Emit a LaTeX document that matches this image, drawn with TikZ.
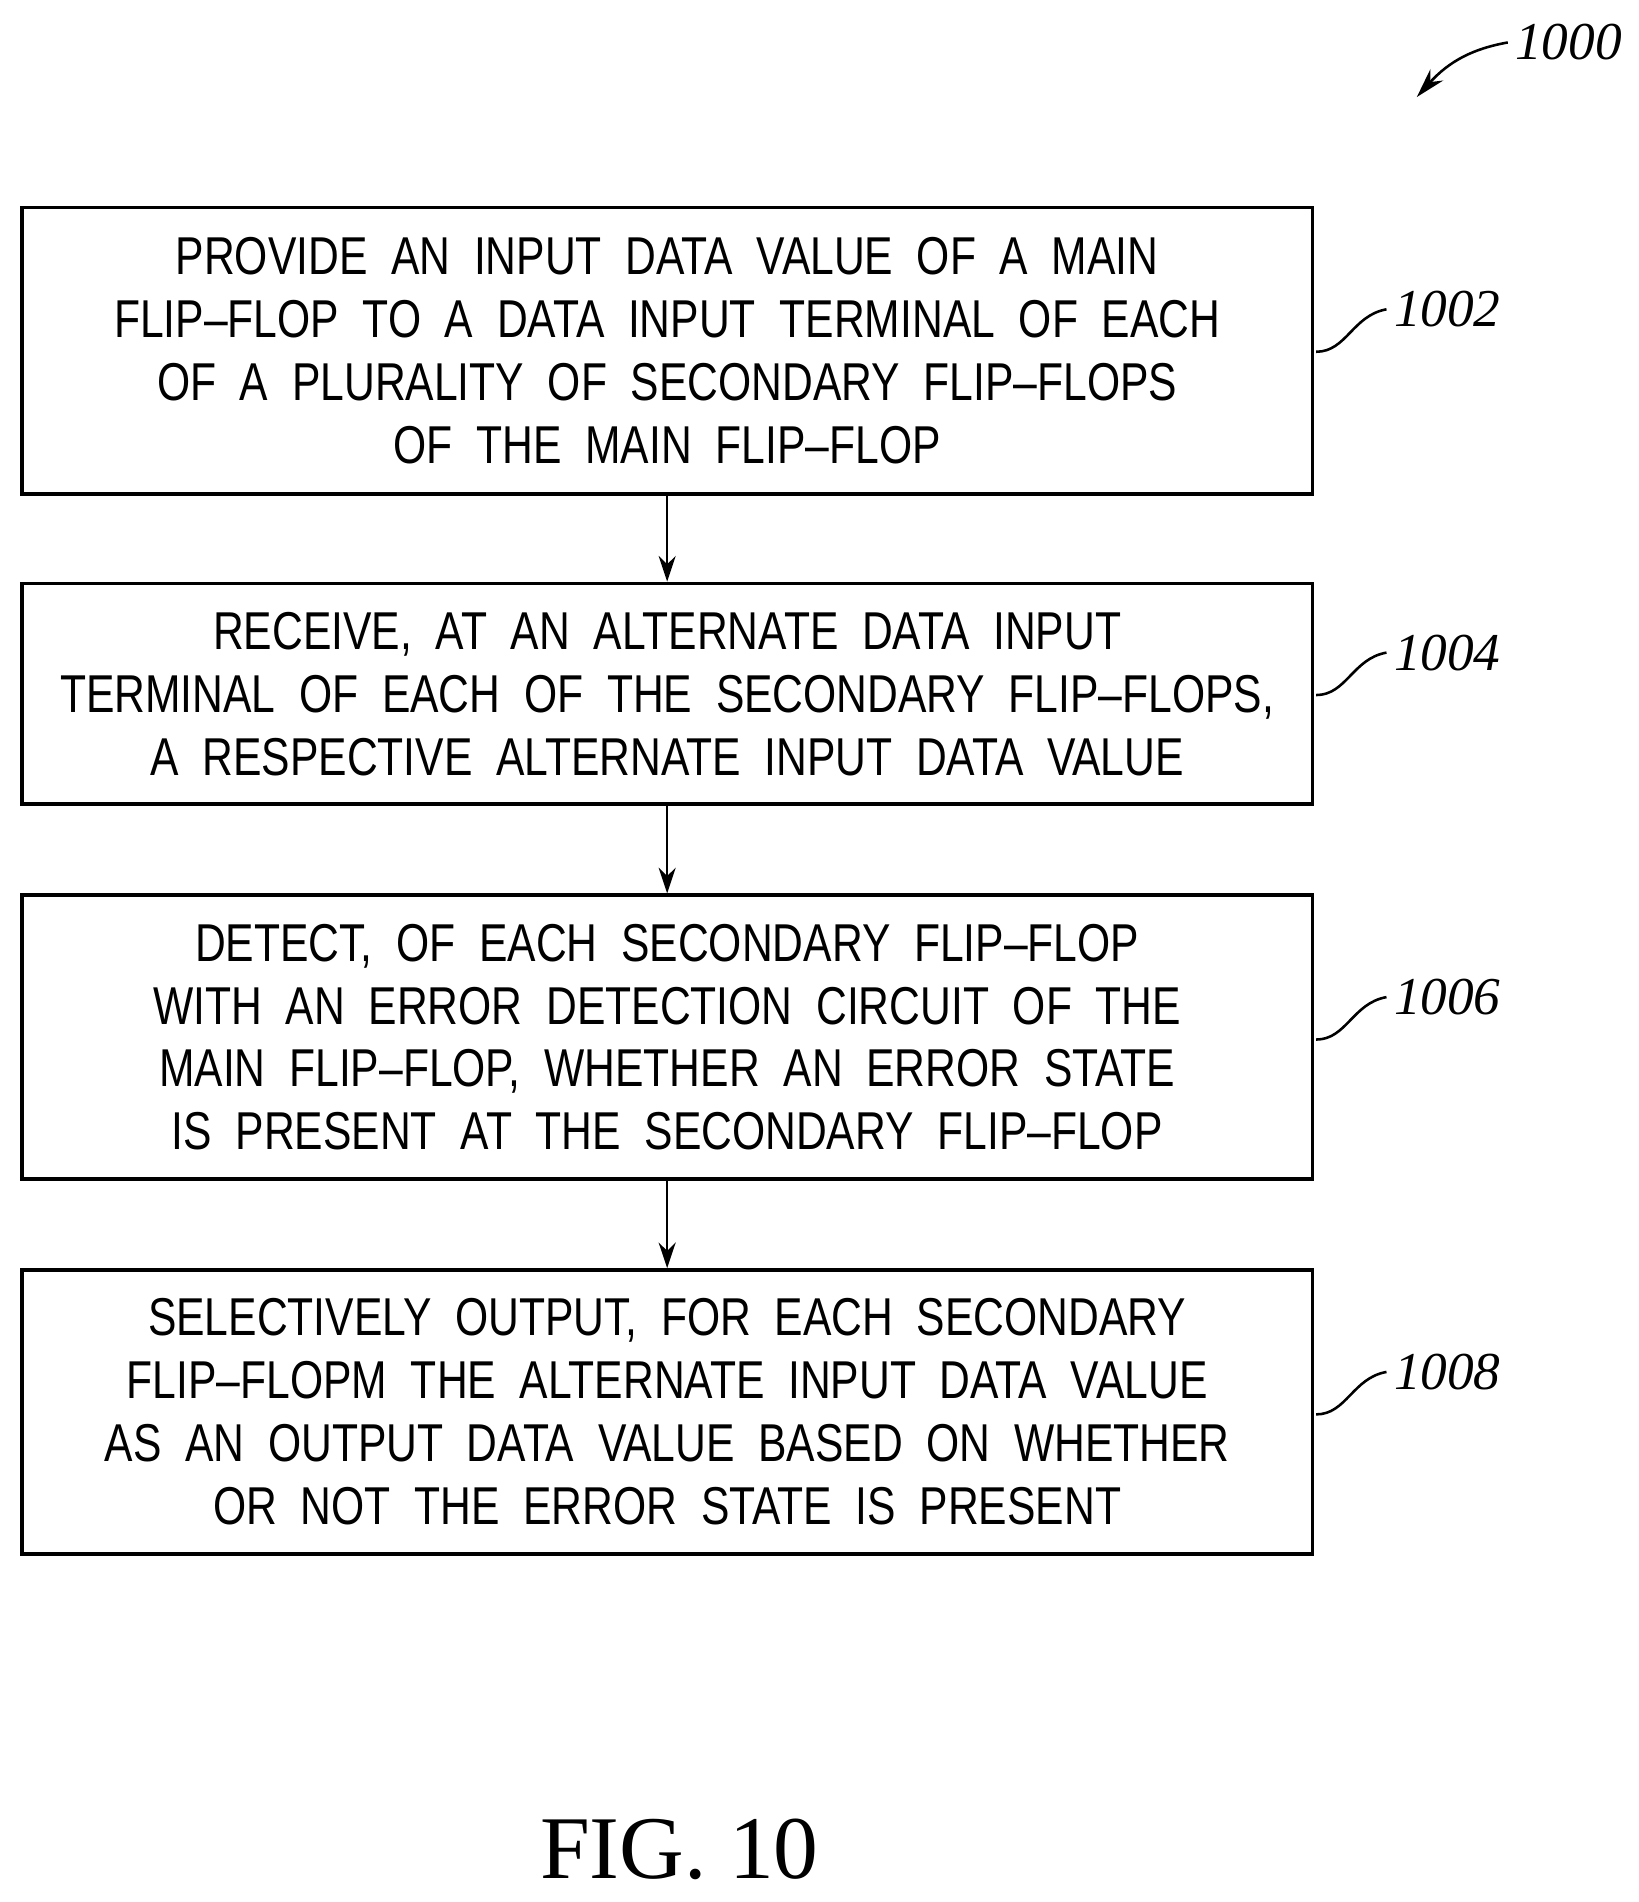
\documentclass[tikz,border=0pt]{standalone}
\usetikzlibrary{arrows.meta}
\usepackage{fontspec}
\setmainfont{Liberation Sans}[FakeStretch=0.8]
\newfontfamily\serif{Liberation Serif}
\begin{document}
\begin{tikzpicture}[x=0.02cm,y=-0.02cm,
 box/.style={draw,line width=1.8pt,minimum width=1064*0.02cm,align=center,font=\fontsize{25}{29.5}\selectfont,inner sep=0pt},
 lab/.style={font=\serif\itshape\fontsize{25}{30}\selectfont},
 arr/.style={line width=1.2pt,-{Stealth[length=12pt,width=8pt]}}]
\useasboundingbox (0,0) rectangle (1351,1568);
\node[box,minimum height=236*0.02cm] (b1) at (550,289) {PROVIDE\ \ AN\ \ INPUT\ \ DATA\ \ VALUE\ \ OF\ \ A\ \ MAIN\\FLIP--FLOP\ \ TO\ \ A\ \ DATA\ \ INPUT\ \ TERMINAL\ \ OF\ \ EACH\\OF\ \ A\ \ PLURALITY\ \ OF\ \ SECONDARY\ \ FLIP--FLOPS\\OF\ \ THE\ \ MAIN\ \ FLIP--FLOP};
\node[box,minimum height=182*0.02cm] (b2) at (550,572) {RECEIVE,\ \ AT\ \ AN\ \ ALTERNATE\ \ DATA\ \ INPUT\\TERMINAL\ \ OF\ \ EACH\ \ OF\ \ THE\ \ SECONDARY\ \ FLIP--FLOPS,\\A\ \ RESPECTIVE\ \ ALTERNATE\ \ INPUT\ \ DATA\ \ VALUE};
\node[box,minimum height=234*0.02cm] (b3) at (550,855) {DETECT,\ \ OF\ \ EACH\ \ SECONDARY\ \ FLIP--FLOP\\WITH\ \ AN\ \ ERROR\ \ DETECTION\ \ CIRCUIT\ \ OF\ \ THE\\MAIN\ \ FLIP--FLOP,\ \ WHETHER\ \ AN\ \ ERROR\ \ STATE\\IS\ \ PRESENT\ \ AT\ \ THE\ \ SECONDARY\ \ FLIP--FLOP};
\node[box,minimum height=234*0.02cm] (b4) at (550,1164) {SELECTIVELY\ \ OUTPUT,\ \ FOR\ \ EACH\ \ SECONDARY\\FLIP--FLOPM\ \ THE\ \ ALTERNATE\ \ INPUT\ \ DATA\ \ VALUE\\AS\ \ AN\ \ OUTPUT\ \ DATA\ \ VALUE\ \ BASED\ \ ON\ \ WHETHER\\OR\ \ NOT\ \ THE\ \ ERROR\ \ STATE\ \ IS\ \ PRESENT};
\draw[arr] (b1) -- (b2);
\draw[arr] (b2) -- (b3);
\draw[arr] (b3) -- (b4);
\foreach \n/\y in {1002/255,1004/538,1006/822,1008/1131}{
 \node[lab,anchor=west] (l\n) at (1143,\y) {\n};
 \draw[line width=1.2pt] (1085,\y+35) .. controls (1110,\y+35) and (1115,\y+5) .. (l\n.west);
}
\node[lab,anchor=west] (l1000) at (1243,35) {1000};
\coordinate (t1000) at (1168,80);
\draw[line width=1.2pt,-{Stealth[length=14pt,width=8pt]}] (l1000.west) .. controls (1215,40) and (1195,50) .. (t1000);
\node[font=\serif\fontsize{42}{46}\selectfont] (fig) at (560,1525) {FIG. 10};
\end{tikzpicture}
\end{document}
